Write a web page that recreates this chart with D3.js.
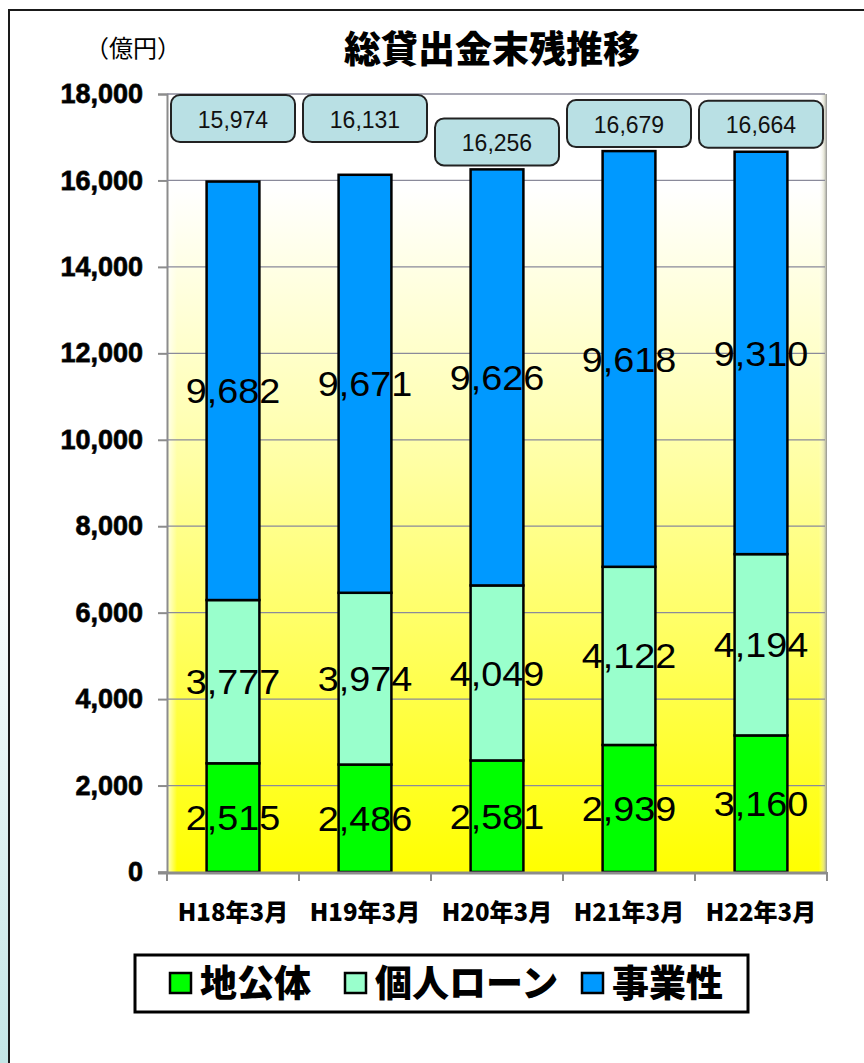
<!DOCTYPE html>
<html>
<head>
<meta charset="utf-8">
<script src="https://cdn.jsdelivr.net/npm/d3@7"></script>
<style>
  html, body { margin: 0; padding: 0; background: #fff; }
  svg { display: block; }
</style>
</head>
<body>
<script>
// ---- data ----
const categories = ["H18年3月", "H19年3月", "H20年3月", "H21年3月", "H22年3月"];
const seriesNames = ["地公体", "個人ローン", "事業性"];
const chikoutai = [2515, 2486, 2581, 2939, 3160];   // 地公体
const kojinLoan = [3777, 3974, 4049, 4122, 4194];   // 個人ローン
const jigyousei = [9682, 9671, 9626, 9618, 9310];   // 事業性
const totals = [15974, 16131, 16256, 16679, 16664];
const yTicks = [0, 2000, 4000, 6000, 8000, 10000, 12000, 14000, 16000, 18000];

// ---- layout / style ----
const W = 864, H = 1063;
const colors = ["#00ff00", "#99ffcc", "#0099ff"];
const plot = { left: 167, right: 827, top: 94, bottom: 872 };
const calloutPinned = [true, true, false, false, false];
const numFont = "'Liberation Sans', Arial, sans-serif";
const jpFont = "'Noto Sans CJK JP', 'Noto Sans', sans-serif";

const svg = d3.select("body").append("svg").attr("width", W).attr("height", H);
const defs = svg.append("defs");

// page-edge strip gradient
const gEdge = defs.append("linearGradient").attr("id", "edgeGrad")
  .attr("x1", 0).attr("y1", 0).attr("x2", 0).attr("y2", 1);
gEdge.append("stop").attr("offset", "0%").attr("stop-color", "#ffffff");
gEdge.append("stop").attr("offset", "50%").attr("stop-color", "#ffffff");
gEdge.append("stop").attr("offset", "100%").attr("stop-color", "#c4e6e6");

// plot background: white at top fading to yellow
const gBg = defs.append("linearGradient").attr("id", "bgGrad")
  .attr("x1", 0).attr("y1", 0).attr("x2", 0).attr("y2", 1);
[[0, "#ffffff"], [0.12, "#ffffff"], [0.42, "#ffffb4"], [0.72, "#ffff5a"], [1, "#ffff00"]]
  .forEach(([o, c]) => gBg.append("stop").attr("offset", o).attr("stop-color", c));

// soft shading at right edge of plot
const gSide = defs.append("linearGradient").attr("id", "sideGrad")
  .attr("x1", 0).attr("y1", 0).attr("x2", 1).attr("y2", 0);
gSide.append("stop").attr("offset", "0%").attr("stop-color", "#ffffff").attr("stop-opacity", 0);
gSide.append("stop").attr("offset", "60%").attr("stop-color", "#d8d8c0").attr("stop-opacity", 0.6);
gSide.append("stop").attr("offset", "100%").attr("stop-color", "#909090").attr("stop-opacity", 1);

const gLeft = defs.append("linearGradient").attr("id", "leftGrad")
  .attr("x1", 0).attr("y1", 0).attr("x2", 1).attr("y2", 0);
gLeft.append("stop").attr("offset", "0%").attr("stop-color", "#ffffff").attr("stop-opacity", 0.8);
gLeft.append("stop").attr("offset", "100%").attr("stop-color", "#ffffff").attr("stop-opacity", 0);

// page edge + frame
svg.append("rect").attr("x", 0).attr("y", 0).attr("width", 9).attr("height", H).attr("fill", "url(#edgeGrad)");
svg.append("path").attr("d", `M9,${H} V10 H${W}`).attr("fill", "none")
  .attr("stroke", "#1a1a1a").attr("stroke-width", 2);

// ---- scales ----
const x = d3.scaleBand().domain(categories).range([plot.left, plot.right])
  .paddingInner(0.6).paddingOuter(0.3);
const y = d3.scaleLinear().domain([0, 18000]).range([plot.bottom, plot.top]);
const step = x.step();

// plot background
svg.append("rect").attr("x", plot.left).attr("y", plot.top)
  .attr("width", plot.right - plot.left).attr("height", plot.bottom - plot.top)
  .attr("fill", "url(#bgGrad)");
svg.append("rect").attr("x", plot.left).attr("y", plot.top)
  .attr("width", 10).attr("height", plot.bottom - plot.top).attr("fill", "url(#leftGrad)");
svg.append("rect").attr("x", plot.right - 8).attr("y", plot.top)
  .attr("width", 8).attr("height", plot.bottom - plot.top).attr("fill", "url(#sideGrad)");

// gridlines + y axis
const yAxis = d3.axisLeft(y).tickValues(yTicks).tickFormat(d3.format(","))
  .tickSize(9).tickPadding(15);
const gy = svg.append("g").attr("transform", `translate(${plot.left},0)`).call(yAxis);
gy.select(".domain").attr("stroke", "#8c8c8c").attr("stroke-width", 2);
gy.selectAll(".tick line").attr("stroke", "#8c8c8c").attr("stroke-width", 2);
gy.selectAll(".tick text")
  .attr("font-family", numFont).attr("font-weight", "bold")
  .attr("font-size", 27).attr("fill", "#000")
  .style("paint-order", "stroke").attr("stroke", "#333").attr("stroke-width", 0.8);

svg.append("g").selectAll("line").data(yTicks.filter(v => v > 0)).join("line")
  .attr("x1", plot.left).attr("x2", plot.right - 2)
  .attr("y1", d => y(d)).attr("y2", d => y(d))
  .attr("stroke", "#8a8a9a").attr("stroke-width", 1.3);

// ---- stacked bars ----
const rows = categories.map((c, i) => ({ cat: c, 地公体: chikoutai[i], 個人ローン: kojinLoan[i], 事業性: jigyousei[i] }));
const stacked = d3.stack().keys(seriesNames)(rows);

const layers = svg.append("g").selectAll("g").data(stacked).join("g")
  .attr("fill", (d, i) => colors[i]);
layers.selectAll("rect").data(d => d).join("rect")
  .attr("x", d => x(d.data.cat))
  .attr("y", d => y(d[1]))
  .attr("width", x.bandwidth())
  .attr("height", d => y(d[0]) - y(d[1]))
  .attr("stroke", "#000").attr("stroke-width", 2.5);

// segment value labels
const fmt = d3.format(",");
const lbl = svg.append("g");
stacked.forEach(layer => {
  lbl.selectAll(null).data(layer).join("text")
    .attr("x", d => x(d.data.cat) + x.bandwidth() / 2)
    .attr("y", d => y((d[0] + d[1]) / 2))
    .attr("dy", "0.36em")
    .attr("text-anchor", "middle")
    .attr("font-family", numFont).attr("font-size", 35)
    .attr("fill", "#000")
    .attr("transform", d => {
      const cx = x(d.data.cat) + x.bandwidth() / 2;
      return `translate(${cx},0) scale(1.08,1) translate(${-cx},0)`;
    })
    .text(d => fmt(d[1] - d[0]));
});

// x axis
svg.append("line").attr("x1", plot.left - 9).attr("x2", plot.right)
  .attr("y1", plot.bottom + 1).attr("y2", plot.bottom + 1)
  .attr("stroke", "#8c8c8c").attr("stroke-width", 3);
svg.append("g").selectAll("line").data(d3.range(categories.length + 1)).join("line")
  .attr("x1", i => plot.left + i * step).attr("x2", i => plot.left + i * step)
  .attr("y1", plot.bottom).attr("y2", plot.bottom + 9)
  .attr("stroke", "#8c8c8c").attr("stroke-width", 2);
svg.append("g").selectAll("text").data(categories).join("text")
  .attr("x", d => x(d) + x.bandwidth() / 2)
  .attr("y", 921)
  .attr("text-anchor", "middle")
  .attr("font-family", jpFont).attr("font-weight", 900)
  .attr("font-size", 24).attr("fill", "#000")
  .text(d => d);

// ---- total callouts ----
const cw = 124, ch = 47;
const callouts = svg.append("g").selectAll("g").data(categories).join("g")
  .attr("transform", (d, i) => {
    const cx = x(d) + x.bandwidth() / 2;
    const top = calloutPinned[i] ? plot.top + 1 : y(totals[i]) - 4 - ch;
    return `translate(${cx - cw / 2},${top})`;
  });
callouts.append("rect").attr("width", cw).attr("height", ch).attr("rx", 9).attr("ry", 9)
  .attr("fill", "#b9e0e4").attr("stroke", "#222").attr("stroke-width", 2);
callouts.append("text")
  .attr("x", cw / 2).attr("y", ch / 2 + 9)
  .attr("text-anchor", "middle")
  .attr("font-family", numFont).attr("font-size", 23).attr("fill", "#111")
  .text((d, i) => fmt(totals[i]));

// ---- titles ----
svg.append("text").attr("x", 492).attr("y", 63).attr("text-anchor", "middle")
  .attr("font-family", jpFont).attr("font-weight", 900).attr("font-size", 37)
  .attr("fill", "#000").text("総貸出金末残推移");
svg.append("text").attr("x", 133).attr("y", 57).attr("text-anchor", "middle")
  .attr("font-family", jpFont).attr("font-size", 24)
  .attr("fill", "#000").text("（億円）");

// ---- legend ----
const lg = svg.append("g");
lg.append("rect").attr("x", 135).attr("y", 955).attr("width", 613).attr("height", 57)
  .attr("fill", "#fff").attr("stroke", "#000").attr("stroke-width", 3);
const legendX = [170, 345, 582];
seriesNames.forEach((name, i) => {
  lg.append("rect").attr("x", legendX[i]).attr("y", 973).attr("width", 21).attr("height", 20)
    .attr("fill", colors[i]).attr("stroke", "#000").attr("stroke-width", 2.5);
  lg.append("text").attr("x", legendX[i] + 30).attr("y", 997)
    .attr("font-family", jpFont).attr("font-weight", 900).attr("font-size", 37)
    .attr("fill", "#000").text(name);
});
</script>
</body>
</html>
